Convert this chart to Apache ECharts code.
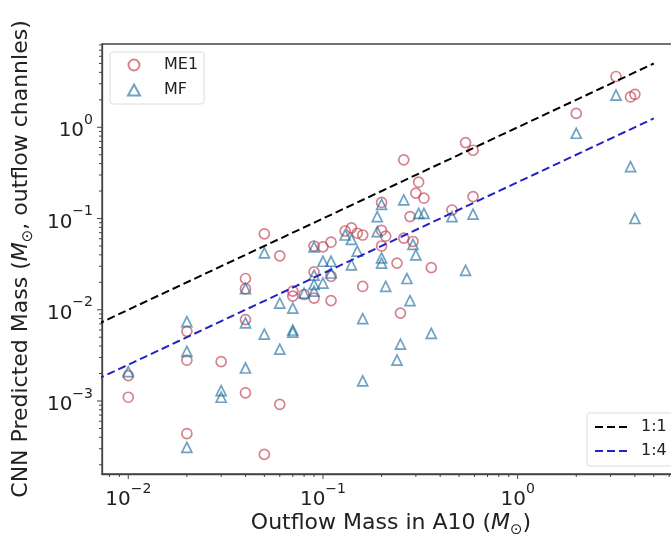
<!DOCTYPE html>
<html><head><meta charset="utf-8">
<script src="https://cdn.jsdelivr.net/npm/echarts@6/dist/echarts.min.js"></script>
<style>html,body{margin:0;padding:0;background:#fff}#chart{width:671px;height:534px}</style>
</head><body><div id="chart"></div>
<script>
// ---- data ----
const me1Mass = [0.01,0.01,0.02,0.02,0.02,0.03,0.04,0.04,0.04,0.04,0.05,0.05,0.06,0.06,0.07,0.07,0.08,0.09,0.09,0.09,0.10,0.11,0.11,0.11,0.13,0.14,0.15,0.16,0.16,0.20,0.20,0.21,0.20,0.24,0.25,0.26,0.26,0.28,0.29,0.30,0.31,0.33,0.36,0.46,0.54,0.59,0.59,2.0,3.2,3.8,4.0];
const me1Pred = [0.0019,0.0011,0.0058,0.0028,0.00044,0.0027,0.022,0.017,0.0078,0.00123,0.068,0.00026,0.039,0.00092,0.016,0.0141,0.0147,0.050,0.026,0.0134,0.049,0.055,0.0233,0.0126,0.073,0.079,0.069,0.066,0.018,0.15,0.074,0.064,0.050,0.0325,0.0092,0.44,0.061,0.105,0.056,0.19,0.25,0.167,0.029,0.124,0.68,0.56,0.174,1.42,3.6,2.15,2.3];
const mfMass = [0.01,0.02,0.02,0.02,0.03,0.03,0.04,0.04,0.04,0.05,0.05,0.06,0.06,0.07,0.07,0.07,0.08,0.09,0.09,0.09,0.09,0.10,0.10,0.11,0.11,0.13,0.14,0.14,0.15,0.16,0.16,0.19,0.19,0.20,0.20,0.20,0.21,0.24,0.25,0.26,0.27,0.28,0.29,0.30,0.31,0.33,0.36,0.46,0.54,0.59,2.0,3.2,3.8,4.0];
const mfPred = [0.0021,0.0074,0.0035,0.00031,0.0013,0.0011,0.017,0.0072,0.0023,0.042,0.0054,0.0118,0.0037,0.0104,0.0060,0.0057,0.0152,0.049,0.024,0.019,0.016,0.034,0.0196,0.034,0.0253,0.066,0.059,0.031,0.044,0.008,0.00166,0.105,0.072,0.143,0.037,0.0325,0.018,0.0028,0.0042,0.16,0.022,0.0126,0.052,0.040,0.114,0.114,0.0055,0.105,0.027,0.112,0.86,2.25,0.37,0.10];
const refX = [0.001, 5];
const ref11Y = [0.001, 5];
const ref14Y = [0.00025, 1.25];
const xRange = [0.00733, 6.82];
const yRange = [0.0001585, 8.18];
const seriesNames = ['ME1', 'MF', '1:1', '1:4'];

const zip = (a, b) => a.map((v, i) => [v, b[i]]);
const FONT = 'DejaVu Sans';
const powLabel = v => {
  const e = Math.log10(v), r = Math.round(e);
  if (Math.abs(e - r) > 1e-6) return '';
  return '{b|10}{s|' + (r < 0 ? '\u2212' : '') + Math.abs(r) + '}';
};
const labelRich = {
  b: {fontFamily: FONT, fontSize: 20, color: '#222', verticalAlign: 'bottom', lineHeight: 28},
  s: {fontFamily: FONT, fontSize: 14, color: '#222', verticalAlign: 'top', lineHeight: 28}
};
const nameRich = {
  m: {fontFamily: FONT, fontSize: 22, fontStyle: 'italic', color: '#222'},
  sub: {fontFamily: FONT, fontSize: 15, color: '#222', verticalAlign: 'bottom'}
};

const chart = echarts.init(document.getElementById('chart'), null, {renderer: 'canvas'});
const option = {
  animation: false,
  backgroundColor: '#fff',
  grid: {left: 102, top: 44, bottom: 60, right: -9, containLabel: false, outerBoundsMode: 'none',
         show: true, borderColor: '#444', borderWidth: 1.3, backgroundColor: 'transparent'},
  xAxis: {
    type: 'log', logBase: 10, min: xRange[0], max: xRange[1],
    name: 'Outflow Mass in A10 ({m|M}{sub|\u2299})',
    nameLocation: 'middle', nameGap: 34, nameMoveOverlap: false,
    nameTextStyle: {fontFamily: FONT, fontSize: 22, color: '#222', lineHeight: 30, rich: nameRich},
    axisLine: {show: true, lineStyle: {color: '#444', width: 1.3}},
    axisTick: {show: false}, splitLine: {show: false}, minorTick: {show: false},
    axisLabel: {interval: 0, margin: 8, formatter: powLabel, rich: labelRich}
  },
  yAxis: {
    type: 'log', logBase: 10, min: yRange[0], max: yRange[1],
    name: 'CNN Predicted Mass ({m|M}{sub|\u2299}, outflow channles)',
    nameLocation: 'middle', nameGap: 66, nameRotate: 90, nameMoveOverlap: false,
    nameTextStyle: {fontFamily: FONT, fontSize: 22, color: '#222', lineHeight: 30, rich: nameRich},
    axisLine: {show: true, lineStyle: {color: '#444', width: 1.3}},
    axisTick: {show: false}, splitLine: {show: false}, minorTick: {show: false},
    axisLabel: {interval: 0, margin: 9, formatter: powLabel, rich: labelRich}
  },
  legend: [
    {
      data: [seriesNames[0], seriesNames[1]], orient: 'vertical', left: 110, top: 52,
      itemWidth: 12, itemHeight: 11, itemGap: 7, symbolKeepAspect: true,
      padding: [4, 6, 5, 17],
      borderColor: '#dcdcdc', borderWidth: 1, borderRadius: 3, backgroundColor: 'rgba(255,255,255,0.8)',
      textStyle: {fontFamily: FONT, fontSize: 16, color: '#222', lineHeight: 18, padding: [0, 0, 0, 19]}
    },
    {
      data: [seriesNames[2], seriesNames[3]], orient: 'vertical', left: 587, top: 413,
      itemWidth: 33, itemHeight: 12, itemGap: 6,
      padding: [5, 30, 6, 7],
      itemStyle: {color: 'rgba(0,0,0,0)', borderWidth: 0, opacity: 0},
      borderColor: '#dcdcdc', borderWidth: 1, borderRadius: 3, backgroundColor: 'rgba(255,255,255,0.8)',
      textStyle: {fontFamily: FONT, fontSize: 16, color: '#222', lineHeight: 18, padding: [0, 0, 0, 8]}
    }
  ],
  series: [
    {
      name: seriesNames[0], type: 'scatter', symbol: 'circle', symbolSize: 10,
      data: zip(me1Mass, me1Pred),
      itemStyle: {color: 'rgba(0,0,0,0)', borderColor: 'rgba(190,60,75,0.8)', borderWidth: 1.7}
    },
    {
      name: seriesNames[1], type: 'scatter', symbol: 'triangle', symbolSize: 10,
      data: zip(mfMass, mfPred),
      itemStyle: {color: 'rgba(0,0,0,0)', borderColor: 'rgba(30,110,160,0.8)', borderWidth: 1.7}
    },
    {
      name: seriesNames[2], type: 'line', symbol: 'none', showSymbol: false, clip: true,
      data: zip(refX, ref11Y),
      lineStyle: {color: '#000', width: 2, type: [8, 4]},
      itemStyle: {color: '#000'}
    },
    {
      name: seriesNames[3], type: 'line', symbol: 'none', showSymbol: false, clip: true,
      data: zip(refX, ref14Y),
      lineStyle: {color: '#2323c4', width: 2, type: [8, 4]},
      itemStyle: {color: '#2323c4'}
    }
  ]
};
chart.setOption(option);

// log-spaced major/minor ticks, positioned through the axes' own scales
function buildTicks() {
  const els = [];
  const bottom = chart.convertToPixel({yAxisIndex: 0}, yRange[0]);
  const left = chart.convertToPixel({xAxisIndex: 0}, xRange[0]);
  for (let e = -5; e <= 2; e++) {
    for (let m = 1; m <= 9; m++) {
      const v = m * Math.pow(10, e);
      const len = m === 1 ? 5 : 3;
      if (v >= xRange[0] && v <= xRange[1]) {
        const px = chart.convertToPixel({xAxisIndex: 0}, v);
        els.push({type: 'line', silent: true, shape: {x1: px, y1: bottom, x2: px, y2: bottom + len}, style: {stroke: '#444', lineWidth: 1}});
      }
      if (v >= yRange[0] && v <= yRange[1]) {
        const py = chart.convertToPixel({yAxisIndex: 0}, v);
        els.push({type: 'line', silent: true, shape: {x1: left, y1: py, x2: left - len, y2: py}, style: {stroke: '#444', lineWidth: 1}});
      }
    }
  }
  chart.setOption({graphic: {elements: els}});
}
buildTicks();
</script>
</body></html>
